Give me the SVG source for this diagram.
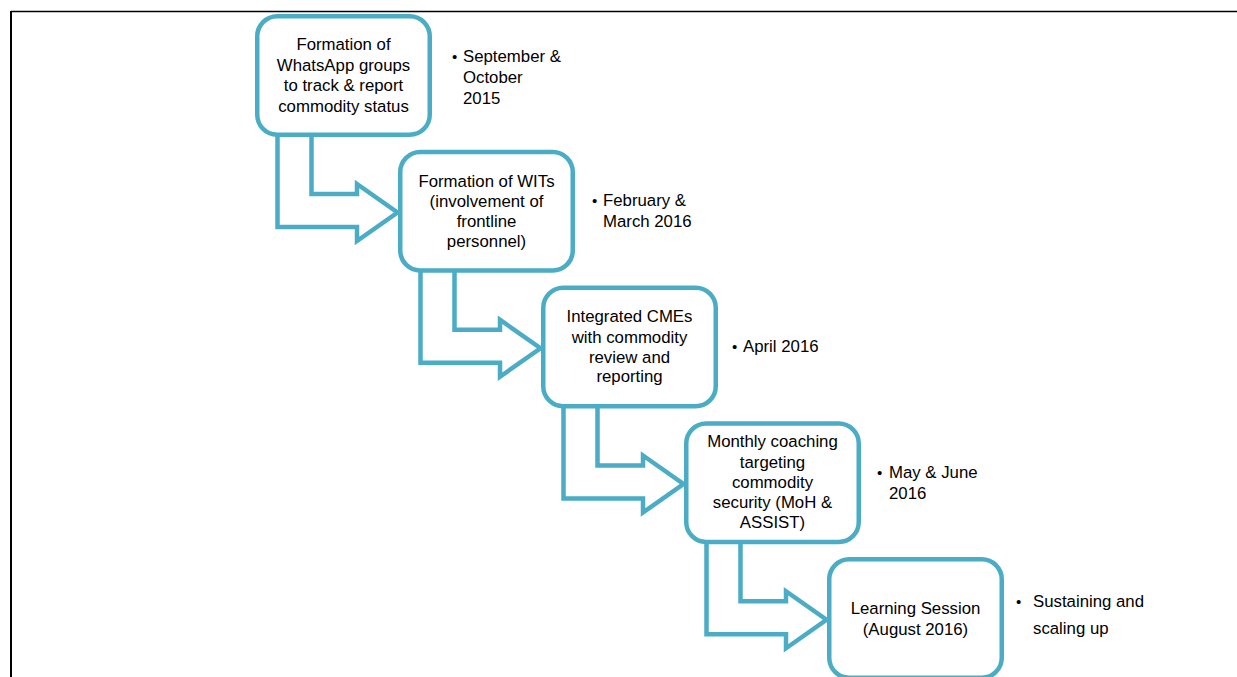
<svg xmlns="http://www.w3.org/2000/svg" width="1237" height="677" viewBox="0 0 1237 677">
<style>
.box{fill:#fff;stroke:#4bacc6;stroke-width:4.5}
.arr{fill:#fff;stroke:#4bacc6;stroke-width:4.5;stroke-linejoin:miter}
.t{font-family:"Liberation Sans",Arial,sans-serif;font-size:16.8px;fill:#000;text-anchor:middle}
.n{font-family:"Liberation Sans",Arial,sans-serif;font-size:16.8px;fill:#000}
.b{font-family:"Liberation Sans",Arial,sans-serif;font-size:15px;fill:#000}
</style>
<defs>
<path id="bent" d="M277.5 136 V227 H357 V241 L397.5 212.5 L357 184 V194 H311.5 V136"/>
</defs>
<rect width="1237" height="677" fill="#fff"/>
<line x1="11" y1="11.5" x2="1237" y2="11.5" stroke="#000" stroke-width="1.5"/>
<line x1="11" y1="11" x2="11" y2="677" stroke="#000" stroke-width="2"/>
<g id="connectors">
<use href="#bent" class="arr"/>
<use href="#bent" class="arr" transform="translate(143,135.75)"/>
<use href="#bent" class="arr" transform="translate(286,271.5)"/>
<use href="#bent" class="arr" transform="translate(429,407.25)"/>
</g>
<g id="node1">
<rect class="box" x="257.25" y="16.25" width="172.5" height="118.5" rx="20"/>
<text class="t" x="343.5" y="50">Formation of</text>
<text class="t" x="343.5" y="70.5">WhatsApp groups</text>
<text class="t" x="343.5" y="91">to track &amp; report</text>
<text class="t" x="343.5" y="111.5">commodity status</text>
</g>
<g id="node2">
<rect class="box" x="400.25" y="152" width="172.5" height="118.5" rx="20"/>
<text class="t" x="486.5" y="186.5">Formation of WITs</text>
<text class="t" x="486.5" y="206.5">(involvement of</text>
<text class="t" x="486.5" y="226.5">frontline</text>
<text class="t" x="486.5" y="246.5">personnel)</text>
</g>
<g id="node3">
<rect class="box" x="543.25" y="287.75" width="172.5" height="118.5" rx="20"/>
<text class="t" x="629.5" y="322">Integrated CMEs</text>
<text class="t" x="629.5" y="342.5">with commodity</text>
<text class="t" x="629.5" y="362.5">review and</text>
<text class="t" x="629.5" y="382">reporting</text>
</g>
<g id="node4">
<rect class="box" x="686.25" y="423.5" width="172.5" height="118.5" rx="20"/>
<text class="t" x="772.5" y="447">Monthly coaching</text>
<text class="t" x="772.5" y="467.5">targeting</text>
<text class="t" x="772.5" y="488">commodity</text>
<text class="t" x="772.5" y="508">security (MoH &amp;</text>
<text class="t" x="772.5" y="528">ASSIST)</text>
</g>
<g id="node5">
<rect class="box" x="829.25" y="559.25" width="172.5" height="118.5" rx="20"/>
<text class="t" x="915.5" y="614">Learning Session</text>
<text class="t" x="915.5" y="634.5">(August 2016)</text>
</g>
<g id="date1">
<text class="b" x="452" y="62">•</text>
<text class="n" x="463" y="62">September &amp;</text>
<text class="n" x="463" y="83">October</text>
<text class="n" x="463" y="104">2015</text>
</g>
<g id="date2">
<text class="b" x="592" y="206">•</text>
<text class="n" x="603" y="206">February &amp;</text>
<text class="n" x="603" y="227">March 2016</text>
</g>
<g id="date3">
<text class="b" x="732" y="352">•</text>
<text class="n" x="743" y="352">April 2016</text>
</g>
<g id="date4">
<text class="b" x="877" y="478">•</text>
<text class="n" x="889" y="478">May &amp; June</text>
<text class="n" x="889" y="499">2016</text>
</g>
<g id="date5">
<text class="b" x="1016" y="607">•</text>
<text class="n" x="1033" y="607">Sustaining and</text>
<text class="n" x="1033" y="634">scaling up</text>
</g>
</svg>
